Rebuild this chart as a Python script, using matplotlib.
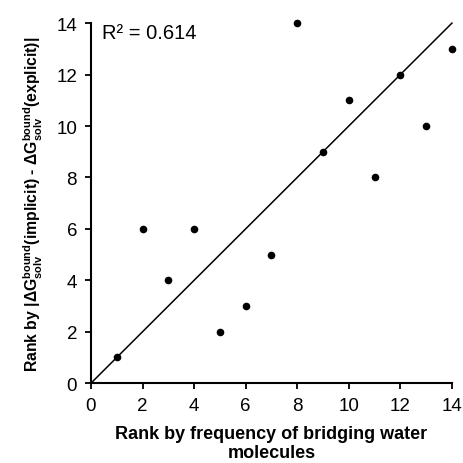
import matplotlib
matplotlib.use("Agg")
import matplotlib.pyplot as plt

plt.rcParams['font.family'] = ['Liberation Sans', 'DejaVu Sans']
plt.rcParams['mathtext.fontset'] = 'custom'
plt.rcParams['mathtext.rm'] = 'Liberation Sans:bold'
plt.rcParams['mathtext.bf'] = 'Liberation Sans:bold'
plt.rcParams['mathtext.default'] = 'rm'

# rank data
rank_water = [1, 2, 3, 4, 5, 6, 7, 8, 9, 10, 11, 12, 13, 14]
rank_dg = [1, 6, 4, 6, 2, 3, 5, 14, 9, 11, 8, 12, 10, 13]
line_x = [0, 14]
line_y = [0, 14]
ticks = [0, 2, 4, 6, 8, 10, 12, 14]
r2_text = "R\u00b2 = 0.614"

fig = plt.figure(figsize=(4.64, 4.64), dpi=100)
ax = fig.add_axes([0.196, 0.172, 0.778, 0.776])

ax.plot(line_x, line_y, color='black', lw=1.1, clip_on=False)
ax.scatter(rank_water, rank_dg, s=20, color='black', zorder=3, clip_on=False)

ax.set_xlim(0, 14)
ax.set_ylim(0, 14)
ax.set_xticks(ticks)
ax.set_yticks(ticks)
ax.tick_params(labelsize=13.5, length=4, width=1.3, direction='out', pad=6)

for side in ['top', 'right']:
    ax.spines[side].set_visible(False)
for side in ['left', 'bottom']:
    ax.spines[side].set_linewidth(1.5)

ax.set_xlabel("Rank by frequency of bridging water\nmolecules",
              fontsize=13, fontweight='bold', labelpad=8, linespacing=1.15)
ax.set_ylabel(r"Rank by |$\Delta$G$^{bound}_{solv}$(implicit) - $\Delta$G$^{bound}_{solv}$(explicit)|",
              fontsize=11.3, fontweight='bold', labelpad=8)

ax.text(0.43, 13.65, r2_text, fontsize=14.5, ha='left', va='center')

fig.savefig('out.png', dpi=100)
